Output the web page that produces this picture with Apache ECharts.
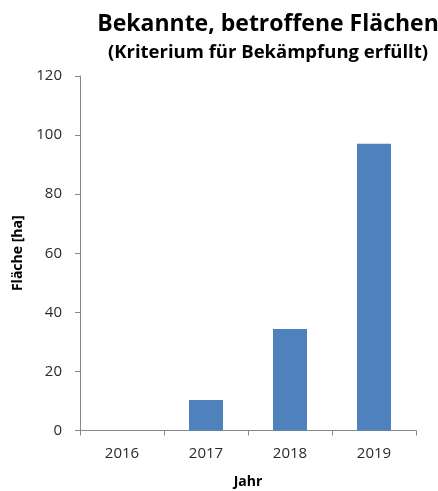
<!DOCTYPE html>
<html><head><meta charset="utf-8">
<script src="https://cdn.jsdelivr.net/npm/echarts@6/dist/echarts.min.js"></script>
<style>html,body{margin:0;padding:0;background:#fff}#c{width:438px;height:491px}</style>
</head><body><div id="c"></div>
<script>
const categories = ['2016', '2017', '2018', '2019'];
const values = [0, 10.3, 34.4, 97.1];
const yTicks = { min: 0, max: 120, interval: 20 };
const titleText = 'Bekannte, betroffene Flächen';
const subtitleText = '(Kriterium für Bekämpfung erfüllt)';
const xName = 'Jahr';
const yName = 'Fläche [ha]';

const chart = echarts.init(document.getElementById('c'), null, { renderer: 'canvas' });
const font = '"Open Sans", "DejaVu Sans", sans-serif';
chart.setOption({
  animation: false,
  backgroundColor: '#fff',
  title: {
    text: titleText,
    subtext: subtitleText,
    left: 263, textAlign: 'center', top: 8,
    itemGap: 7,
    textStyle: { fontFamily: font, fontWeight: 'bold', fontSize: 23, color: '#000' },
    subtextStyle: { fontFamily: font, fontWeight: 'bold', fontSize: 18.5, color: '#000' }
  },
  grid: { left: 80, right: 22, top: 76, bottom: 60.5, containLabel: false, outerBoundsMode: 'none' },
  xAxis: {
    type: 'category', data: categories,
    name: xName, nameLocation: 'middle', nameGap: 45,
    nameTextStyle: { fontFamily: font, fontWeight: 'bold', fontSize: 14, color: '#000' },
    axisLine: { lineStyle: { color: '#878787', width: 1 } },
    axisTick: { show: true, length: 5, lineStyle: { color: '#878787' } },
    axisLabel: { fontFamily: font, fontSize: 15, color: '#2a2a2a', margin: 16 }
  },
  yAxis: {
    type: 'value', min: yTicks.min, max: yTicks.max, interval: yTicks.interval,
    name: yName, nameLocation: 'middle', nameGap: 55, nameRotate: 90,
    nameTextStyle: { fontFamily: font, fontWeight: 'bold', fontSize: 14, color: '#000' },
    axisLine: { show: true, lineStyle: { color: '#878787', width: 1 } },
    axisTick: { show: true, length: 5, lineStyle: { color: '#878787' } },
    axisLabel: { fontFamily: font, fontSize: 15, color: '#2a2a2a', margin: 18 },
    splitLine: { show: false }
  },
  series: [{
    type: 'bar', data: values, barWidth: 34,
    itemStyle: { color: '#4F81BD' }
  }]
});
</script></body></html>
